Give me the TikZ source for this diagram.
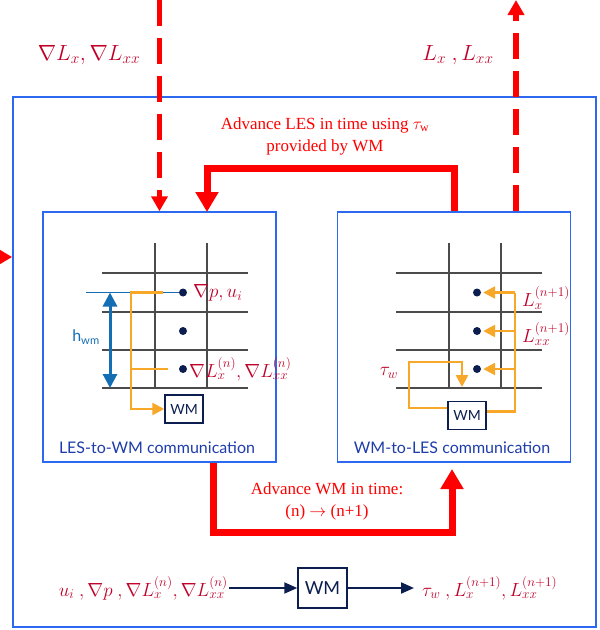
\documentclass[tikz,border=0pt]{standalone}
\usepackage{fix-cm}
\usepackage{amsmath,amssymb}
\usepackage{fontspec}
\setmainfont{Liberation Serif}
\setsansfont{Lato}
\usetikzlibrary{arrows.meta}
\definecolor{boxblue}{RGB}{45,105,240}
\definecolor{labred}{RGB}{192,0,40}
\definecolor{arrowred}{RGB}{255,0,0}
\definecolor{wmorange}{RGB}{247,168,40}
\definecolor{navy}{RGB}{12,30,80}
\definecolor{gridgray}{RGB}{75,75,75}
\definecolor{hblue}{RGB}{20,110,180}
\definecolor{capblue}{RGB}{30,60,170}

\begin{document}
\begin{tikzpicture}[x=1pt,y=-1pt,>=stealth,
  boxframe/.style={draw=boxblue,line width=1.5pt,inner sep=0pt},
  wmbox/.style={draw=navy,line width=1.5pt,fill=white,inner sep=0pt,minimum width=38pt,minimum height=28pt,text=navy,font=\sffamily\fontsize{14}{14}\selectfont},
  dot/.style={circle,fill=navy,inner sep=0pt,minimum size=8pt},
  lab/.style={text=labred,inner sep=1pt,font=\fontsize{19}{19}\selectfont},
  note/.style={text=arrowred,align=center,font=\fontsize{17}{22}\selectfont},
  caption/.style={text=capblue,font=\sffamily\fontsize{16}{16}\selectfont},
  gridline/.style={gridgray,line width=1.8pt},
  feed/.style={wmorange,line width=2.5pt},
  feedarrow/.style={feed,-{Triangle[width=12pt,length=12pt]}},
  bigarrow/.style={arrowred,line width=7pt,-{Triangle[width=22pt,length=20pt]}},
  dasharrow/.style={arrowred,line width=5.5pt,dash pattern=on 26pt off 12pt,-{Triangle[width=16pt,length=15pt]}},
  navyarrow/.style={navy,line width=2pt,-{Triangle[width=11pt,length=13pt]}}]
\useasboundingbox (0,0) rectangle (600,630);

% frames
\node[boxframe,minimum width=583pt,minimum height=530pt] (outer) at (304.5,362) {};
\node[boxframe,minimum width=233pt,minimum height=250pt] (lesbox) at (159.5,337) {};
\node[boxframe,minimum width=233pt,minimum height=250pt] (wmlbox) at (454,337) {};

% exchange with the outer solver
\coordinate (srcL) at (159.5,0);
\coordinate (dstR) at (516,0);
\coordinate (feedin) at (-30,257);
\draw[dasharrow] (srcL) -- (lesbox.north);
\draw[dasharrow] (wmlbox.north -| dstR) -- (dstR);
\draw[bigarrow] (feedin) -- (feedin -| outer.west);
\node[lab,font=\fontsize{22}{22}\selectfont] (gradtop) at (89,55) {$\nabla L_x, \nabla L_{xx}$};
\node[lab,font=\fontsize{22}{22}\selectfont] (valtop) at (458,55) {$L_x\ , L_{xx}$};

% time advance loop
\coordinate (lesin) at (207,212);
\coordinate (topbar) at (0,168);
\coordinate (lesout) at (213,463);
\coordinate (wmlin) at (452,469);
\coordinate (botbar) at (0,532);
\draw[bigarrow] (wmlbox.north) |- (topbar -| lesin) -- (lesin);
\draw[bigarrow] (lesout) |- (botbar -| wmlin) -- (wmlin);
\node[note] (advles) at (325,136) {Advance LES in time using $\tau_{\mathrm{w}}$\\provided by WM};
\node[note] (advwm) at (327,501) {Advance WM in time:\\(n) $\rightarrow$ (n+1)};

% LES-to-WM
\foreach \gx in {155,207} \draw[gridline] (\gx,243) -- (\gx,388);
\foreach \gy in {273,312,350,388} \draw[gridline] (102,\gy) -- (248,\gy);
\node[dot] (pL1) at (183,292.5) {};
\node[dot] (pL2) at (183,331) {};
\node[dot] (pL3) at (183,369) {};
\draw[hblue,line width=1pt] (86,292.5) -- (pL1);
\draw[hblue,line width=3pt,{Triangle[width=14pt,length=14pt]}-{Triangle[width=14pt,length=14pt]}] (110,292.5) -- (110,388);
\node[text=hblue,font=\sffamily\fontsize{16}{16}\selectfont] (hwm) at (86,337) {h\textsubscript{wm}};
\node[wmbox] (wmL) at (184,409) {WM};
\coordinate (tapL1) at (163,292.5);
\coordinate (tapL3) at (168,369);
\draw[feedarrow] (tapL1) -- (131,292.5) |- (wmL.west);
\draw[feed] (tapL3) -- (tapL3 -| 131,0);
\node[lab,anchor=west] (gradp) at (192,292.5) {$\nabla p, u_i$};
\node[lab,anchor=west] (gradLn) at (188,369) {$\nabla L_x^{(n)}, \nabla L_{xx}^{(n)}$};
\node[caption] (capL) at (157,448) {LES-to-WM communication};

% WM-to-LES
\begin{scope}[xshift=294pt]
\foreach \gx in {155,207} \draw[gridline] (\gx,243) -- (\gx,388);
\foreach \gy in {273,312,350,388} \draw[gridline] (102,\gy) -- (248,\gy);
\end{scope}
\node[dot] (pR1) at (477,292.5) {};
\node[dot] (pR2) at (477,331) {};
\node[dot] (pR3) at (477,369) {};
\node[wmbox] (wmR) at (467,415.5) {WM};
\coordinate (spine) at (515,0);
\draw[feed] ([yshift=4pt]wmR.east) -| (pR1 -| spine);
\foreach \d in {pR1,pR2,pR3} \draw[feedarrow,shorten >=2pt] (\d -| spine) -- (\d);
\draw[feedarrow] ([yshift=7.5pt]wmR.west) -| (409,362) -| (462,387);
\node[lab] (tauw) at (389,373) {$\tau_w$};
\node[lab,anchor=west] (lxn) at (521,298) {$L_x^{(n+1)}$};
\node[lab,anchor=west] (lxxn) at (521,334) {$L_{xx}^{(n+1)}$};
\node[caption] (capR) at (452,448) {WM-to-LES communication};

% one WM step
\node[wmbox,minimum width=49pt,minimum height=40pt,font=\sffamily\fontsize{18}{18}\selectfont] (wmB) at (322.5,588) {WM};
\node[lab,anchor=east] (inB) at (229,588) {$u_i\ ,\nabla p\ ,\nabla L_x^{(n)},\nabla L_{xx}^{(n)}$};
\node[lab,anchor=west,inner xsep=8pt] (outB) at (414,588) {$\tau_w\ , L_x^{(n+1)}, L_{xx}^{(n+1)}$};
\draw[navyarrow] (inB.east) -- (wmB.west);
\draw[navyarrow] (wmB.east) -- (outB.west);
\end{tikzpicture}
\end{document}
